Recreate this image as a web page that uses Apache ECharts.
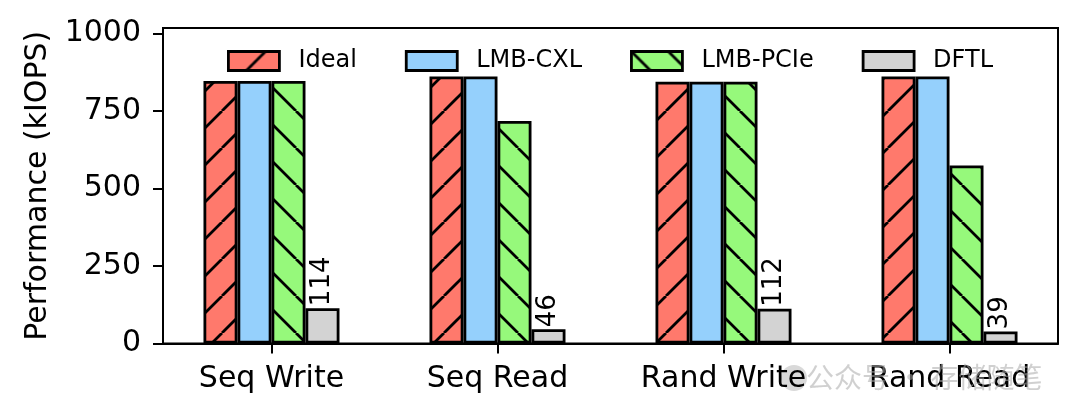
<!DOCTYPE html>
<html>
<head>
<meta charset="utf-8">
<script src="https://cdn.jsdelivr.net/npm/echarts@6/dist/echarts.min.js"></script>
<style>
  html, body { margin: 0; padding: 0; background: #fff; }
  #chart { width: 1080px; height: 418px; }
</style>
</head>
<body>
<div id="chart"></div>
<script>
var categories = ['Seq Write', 'Seq Read', 'Rand Write', 'Rand Read'];
var seriesNames = ['Ideal', 'LMB-CXL', 'LMB-PCIe', 'DFTL'];
var ideal = [846, 861, 844, 861];
var lmbCxl = [846, 861, 844, 861];
var lmbPcie = [846, 717, 844, 574];
var dftl = [114, 46, 112, 39];
var yTicks = [0, 250, 500, 750, 1000];
var xTicks = [0, 1, 2, 3];

// hatch tile like matplotlib '/' and '\'
function hatch(bg, dir) {
  var s = 37, c = document.createElement('canvas');
  c.width = s; c.height = s;
  var ctx = c.getContext('2d');
  ctx.fillStyle = bg;
  ctx.fillRect(0, 0, s, s);
  if (dir) {
    ctx.strokeStyle = '#000';
    ctx.lineWidth = 2.8;
    ctx.beginPath();
    for (var k = -1; k <= 1; k++) {
      if (dir === '/') { ctx.moveTo(k * s, s); ctx.lineTo(k * s + s, 0); }
      else { ctx.moveTo(k * s, 0); ctx.lineTo(k * s + s, s); }
    }
    ctx.stroke();
  }
  return { image: c, repeat: 'repeat' };
}

function pairs(vals) {
  return vals.map(function (v, i) { return [i, v]; });
}

var fills = [hatch('#ff796c', '/'), hatch('#95d0fc'), hatch('#96f97b', '\\'), hatch('#d3d3d3')];
var values = [ideal, lmbCxl, lmbPcie, dftl];
var font = 'DejaVu Sans';

var series = values.map(function (vals, i) {
  var s = {
    name: seriesNames[i],
    type: 'bar',
    data: pairs(vals),
    barWidth: 34,
    barGap: '0%',
    itemStyle: { color: fills[i], borderColor: '#000', borderWidth: 2.8 },
    emphasis: { disabled: true }
  };
  if (i === 3) {
    s.label = {
      show: true,
      position: 'top',
      rotate: 90,
      align: 'left',
      verticalAlign: 'middle',
      distance: 2,
      fontFamily: font,
      fontSize: 26,
      color: '#000',
      formatter: function (p) { return p.value[1]; }
    };
  }
  return s;
});

var chart = echarts.init(document.getElementById('chart'));
chart.setOption({
  animation: false,
  backgroundColor: '#fff',
  grid: { left: 163, right: 22, top: 28, bottom: 74.5, show: true, borderColor: '#000', borderWidth: 2 },
  legend: {
    data: seriesNames,
    left: 227,
    top: 49,
    padding: 0,
    itemWidth: 51,
    itemHeight: 19,
    itemGap: 48,
    icon: 'rect',
    itemStyle: { borderColor: '#000', borderWidth: 2.8 },
    textStyle: { fontFamily: font, fontSize: 24, color: '#000', padding: [0, 0, 0, 14] }
  },
  xAxis: {
    type: 'value',
    min: -0.48,
    max: 3.48,
    splitLine: { show: false },
    axisLine: { show: true, onZero: false, lineStyle: { color: '#000', width: 2 } },
    axisTick: { show: true, customValues: xTicks, length: 10, lineStyle: { color: '#000', width: 2 } },
    axisLabel: {
      customValues: xTicks,
      formatter: function (v) { return categories[Math.round(v)]; },
      fontFamily: font, fontSize: 30, color: '#000', margin: 21
    }
  },
  yAxis: {
    type: 'value',
    min: 0,
    max: 1017,
    name: 'Performance (kIOPS)',
    nameLocation: 'middle',
    nameGap: 110,
    nameTextStyle: { fontFamily: font, fontSize: 30, color: '#000' },
    splitLine: { show: false },
    axisLine: { show: true, onZero: false, lineStyle: { color: '#000', width: 2 } },
    axisTick: { show: true, customValues: yTicks, length: 10, lineStyle: { color: '#000', width: 2 } },
    axisLabel: {
      customValues: yTicks,
      formatter: function (v) { return String(v); },
      fontFamily: font, fontSize: 30, color: '#000', margin: 22
    }
  },
  graphic: [
    { type: 'circle', left: 781, top: 365, z: -1, shape: { r: 13 }, style: { fill: 'rgba(180,180,180,0.5)' } },
    { type: 'text', left: 806, top: 363, z: 100, silent: true,
      style: { text: '公众号 · 存储随笔', fontFamily: 'Noto Sans CJK SC', fontSize: 28, fill: 'rgba(170,170,170,0.55)' } }
  ],
  series: series
});
</script>
</body>
</html>
